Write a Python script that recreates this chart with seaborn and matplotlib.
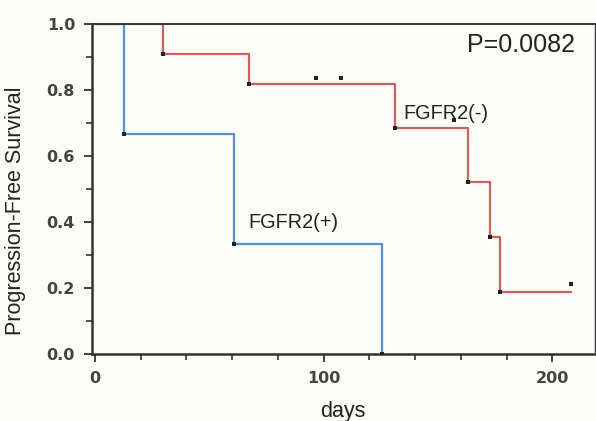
import matplotlib
matplotlib.use("Agg")
import matplotlib.pyplot as plt
import seaborn as sns
import pandas as pd
import numpy as np
from matplotlib.ticker import MultipleLocator

# step curves (day, survival)
pos_days = [0, 12.7, 60.7, 125.3]
pos_surv = [1.0, 0.667, 0.333, 0.0]
neg_days = [0, 29.7, 67.2, 131.0, 163.0, 172.5, 177.0, 208.0]
neg_surv = [1.0, 0.909, 0.818, 0.685, 0.521, 0.355, 0.188, 0.188]

# censor marks (drawn just above the line in the original)
neg_cens_days = [96.5, 107.4, 157.0, 208.0]
neg_cens_surv = [0.835, 0.835, 0.709, 0.212]

blue = "#5b8ecb"
red = "#cd625c"

sns.set_style("ticks")
plt.rcParams['font.family'] = ['Liberation Sans', 'DejaVu Sans']

fig = plt.figure(figsize=(5.96, 4.21), dpi=100, facecolor="#fcfcf8")
ax = fig.add_axes([0.154, 0.159, 0.844, 0.784])
ax.set_facecolor("#fcfcf8")

pos = pd.DataFrame({"day": pos_days, "surv": pos_surv})
neg = pd.DataFrame({"day": neg_days, "surv": neg_surv})
cens = pd.DataFrame({"day": neg_cens_days, "surv": neg_cens_surv})

sns.lineplot(data=pos, x="day", y="surv", drawstyle="steps-post", color=blue,
             lw=1.6, ax=ax, estimator=None)
sns.lineplot(data=neg, x="day", y="surv", drawstyle="steps-post", color=red,
             lw=1.6, ax=ax, estimator=None)
# event dots at the step corners
sns.scatterplot(data=pos.iloc[1:], x="day", y="surv", color="#222222", s=10,
                marker="s", ax=ax, linewidth=0, zorder=5)
sns.scatterplot(data=neg.iloc[1:-1], x="day", y="surv", color="#222222", s=10,
                marker="s", ax=ax, linewidth=0, zorder=5)
sns.scatterplot(data=cens, x="day", y="surv", color="#222222", s=10,
                marker="s", ax=ax, linewidth=0, zorder=5)

ax.set_xlim(-1.3, 218.5)
ax.set_ylim(0, 1.0)
ax.xaxis.set_major_locator(MultipleLocator(100))
ax.xaxis.set_minor_locator(MultipleLocator(20))
ax.yaxis.set_major_locator(MultipleLocator(0.2))
ax.yaxis.set_minor_locator(MultipleLocator(0.1))
ax.yaxis.set_major_formatter(matplotlib.ticker.FormatStrFormatter("%.1f"))
ax.tick_params(axis="both", which="major", length=6, width=1.3, color="#333333",
               labelsize=11.5, labelcolor="#444444", pad=6)
ax.tick_params(axis="both", which="minor", length=4, width=1.2, color="#333333")
for lab in ax.get_xticklabels() + ax.get_yticklabels():
    lab.set_fontweight("bold")
    lab.set_family("DejaVu Sans")

for s in ax.spines.values():
    s.set_color("#333333")
ax.spines["left"].set_linewidth(1.8)
ax.spines["bottom"].set_linewidth(1.8)
ax.spines["top"].set_linewidth(1.4)
ax.spines["right"].set_linewidth(1.0)

ax.set_xlabel("days", fontsize=15.5, color="#222222", labelpad=11)
ax.set_ylabel("Progression-Free Survival", fontsize=15.5, color="#222222")
ax.yaxis.set_label_coords(-0.13, 0.433)

ax.text(0.96, 0.935, "P=0.0082", transform=ax.transAxes, ha="right", va="center",
        fontsize=18, color="#222222")
ax.text(134.7, 0.73, "FGFR2(-)", ha="left", va="center", fontsize=14.3, color="#222222")
ax.text(67, 0.40, "FGFR2(+)", ha="left", va="center", fontsize=14.3, color="#222222")

fig.savefig("out.png", dpi=100, facecolor=fig.get_facecolor())
